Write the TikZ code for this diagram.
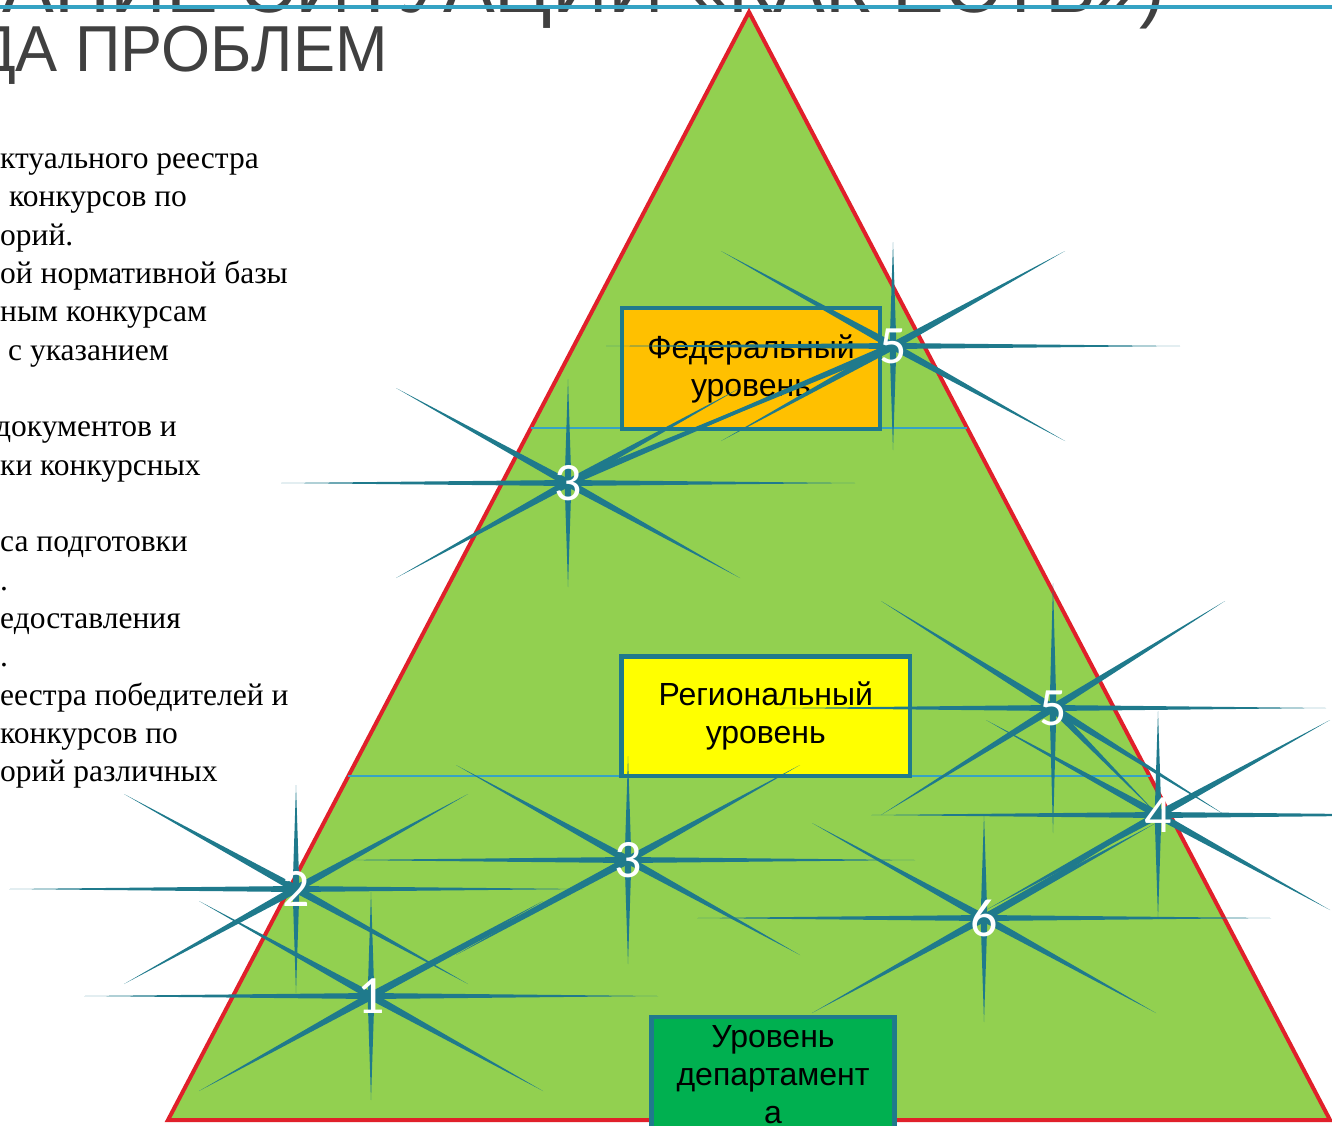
\documentclass[tikz,border=0pt]{standalone}
\usepackage{fontspec}
\setmainfont{Liberation Serif}
\setsansfont{Liberation Sans}
\newfontfamily\titlefont[FakeStretch=0.97]{Liberation Sans}
\newfontfamily\digitfont{Carlito}
\usetikzlibrary{calc}

\definecolor{trigreen}{HTML}{92D050}
\definecolor{trired}{HTML}{E0202A}
\definecolor{sparkblue}{HTML}{1F7A8C}
\definecolor{levelblue}{HTML}{35A3C4}
\definecolor{fedorange}{HTML}{FFC000}
\definecolor{regyellow}{HTML}{FFFF00}
\definecolor{depgreen}{HTML}{00B050}
\definecolor{titlegray}{HTML}{404040}

\newcommand{\sparkray}[3]{\fill[sparkblue] ($(#1)!#3!90:(#2)$) -- (#2) -- ($(#1)!#3!-90:(#2)$) -- cycle;}
\newcommand{\spark}[7]{
\coordinate (#1) at (#2,#3);
\foreach \dx/\dy/\w in {#4/0/3pt,-#4/0/3pt,0/#5/3.4pt,0/-#5/3.4pt,#6/#7/3.8pt,-#6/#7/3.8pt,#6/-#7/3.8pt,-#6/-#7/3.8pt} {
\coordinate (#1-tip) at ($(#1)+(\dx,\dy)$);
\sparkray{#1}{#1-tip}{\w}
}
}

\begin{document}
\begin{tikzpicture}[x=1pt,y=-1pt,
  titletext/.style={text=titlegray,font=\titlefont\fontsize{65}{70}\selectfont,inner sep=0pt},
  notetext/.style={font=\fontsize{31.5}{36}\selectfont,inner sep=0pt,anchor=base west},
  levelbox/.style={draw=sparkblue,line width=4.5pt,align=center,inner sep=0pt,
    font=\sffamily\fontsize{32}{38}\selectfont},
  levelline/.style={levelblue,line width=1.6pt},
  sparknum/.style={text=white,font=\digitfont\fontsize{54}{54}\selectfont,inner sep=0pt}]
\useasboundingbox (0,0) rectangle (1332,1126);
\clip (0,0) rectangle (1332,1126);

\node[titletext,anchor=base east,font=\titlefont\fontsize{80}{80}\selectfont] (title1) at (1165,13) {АНИЕ СИТУАЦИИ «КАК ЕСТЬ»)};
\node[titletext,anchor=base east] (title2) at (388,72) {ДА ПРОБЛЕМ};
\draw[levelblue,line width=3.5pt] (0,7) -- (1332,7);

\foreach \t [count=\i] in {ктуального реестра,\hspace{9pt}конкурсов по,орий.,ой нормативной базы,
  ным конкурсам,\hspace{8pt}с указанием,{},\hspace{-5pt}документов и,ки конкурсных,{},са подготовки,.,
  едоставления,.,еестра победителей и,конкурсов по,орий различных}
  \node[notetext] (note\i) at (0,168.4+38.33*\i-38.33) {\t};

\coordinate (apex) at (749,12);
\coordinate (bl) at (168,1120);
\coordinate (br) at (1330,1120);
\draw[trired,line width=4pt,fill=trigreen] (apex) -- (br) -- (bl) -- cycle;
\draw[levelline] ($(apex)!0.3755!(bl)$) -- ($(apex)!0.3755!(br)$);
\draw[levelline] ($(apex)!0.6895!(bl)$) -- ($(apex)!0.6895!(br)$);

\node[levelbox,fill=fedorange,minimum width=258pt,minimum height=121pt] (fed) at (751,368.5) {Федеральный\\уровень};
\node[levelbox,fill=regyellow,minimum width=288.5pt,minimum height=119.5pt] (reg) at (765.75,716.25) {Региональный\\уровень};
\node[levelbox,fill=depgreen,minimum width=243pt,minimum height=116pt] (dep) at (773,1075) {Уровень\\департамент\\а};

\spark{s5a}{893}{346}{287}{104}{172}{95}
\spark{s3a}{568}{483}{287}{104}{172}{95}
\spark{s2}{296}{889}{287}{104}{172}{95}
\spark{s3b}{628}{860}{287}{104}{172}{95}
\spark{s1}{371}{996}{287}{104}{172}{95}
\spark{s6}{984}{918}{287}{104}{172}{95}
\spark{s4}{1158}{815}{287}{104}{172}{95}
\spark{s5b}{1053}{708}{273}{125}{172}{107}

\sparkray{s3a}{s5a}{3.5pt}
\sparkray{s5a}{s3a}{3.5pt}
\sparkray{s1}{s3b}{3.5pt}
\sparkray{s3b}{s1}{3.5pt}
\sparkray{s6}{s4}{3.5pt}
\sparkray{s5b}{s4}{3.5pt}

\foreach \n/\t in {s5a/5,s3a/3,s2/2,s3b/3,s1/1,s6/6,s4/4,s5b/5}
  \node[sparknum] (\n-num) at (\n) {\t};
\end{tikzpicture}
\end{document}
